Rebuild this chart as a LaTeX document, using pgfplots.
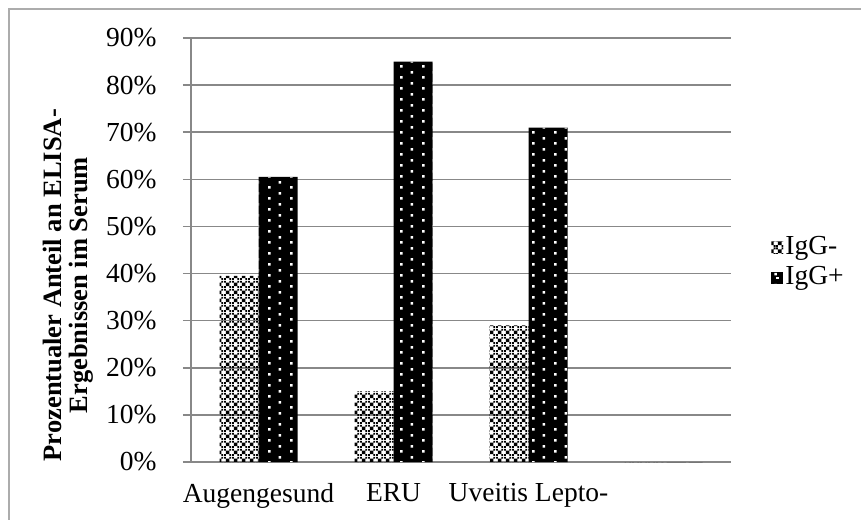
\documentclass[border=0pt]{standalone}
\usepackage{pgfplots}
\pgfplotsset{compat=1.18}
\usetikzlibrary{patterns.meta}
\usepackage{fontspec}
\setmainfont{Liberation Serif}

\definecolor{axgray}{HTML}{888888}

% small black crosses (IgG-)
\tikzdeclarepattern{
  name=xcross,
  type=uncolored,
  bottom left={(0pt,0pt)},
  top right={(8pt,8pt)},
  tile size={(8pt,8pt)},
  code={
    \pgfpathrectangle{\pgfpoint{0pt}{0pt}}{\pgfpoint{2pt}{2pt}}
    \pgfpathrectangle{\pgfpoint{2pt}{2pt}}{\pgfpoint{4pt}{4pt}}
    \pgfpathrectangle{\pgfpoint{6pt}{6pt}}{\pgfpoint{2pt}{2pt}}
    \pgfpathrectangle{\pgfpoint{6pt}{0pt}}{\pgfpoint{2pt}{2pt}}
    \pgfpathrectangle{\pgfpoint{0pt}{6pt}}{\pgfpoint{2pt}{2pt}}
    \pgfusepath{fill}
  }
}
% sparse staggered dots (IgG+, white on black)
\tikzdeclarepattern{
  name=wdots,
  type=uncolored,
  bottom left={(0pt,0pt)},
  top right={(22pt,11pt)},
  tile size={(22pt,11pt)},
  code={
    \pgfpathrectangle{\pgfpoint{4.3pt}{1.5pt}}{\pgfpoint{2.6pt}{2.6pt}}
    \pgfpathrectangle{\pgfpoint{15.3pt}{7pt}}{\pgfpoint{2.6pt}{2.6pt}}
    \pgfusepath{fill}
  }
}

\begin{document}
\fontsize{27.5}{30}\selectfont
\begin{tikzpicture}[x=1pt,y=1pt]
\useasboundingbox (0,0) rectangle (861,519);
\draw[line width=1.2pt, color=axgray!70] (9,-10) -- (9,510) -- (880,510);
\begin{axis}[
    at={(191pt,57pt)}, anchor=south west,
    scale only axis,
    width=540pt, height=424pt,
    ybar=0pt, bar width=39pt,
    xmin=-0.5, xmax=3.5,
    ymin=0, ymax=90,
    enlargelimits=false,
    xtick={0,1,2,3},
    xticklabels={Augengesund,ERU,Uveitis Lepto-,{}},
    major x tick style={draw=none},
    ytick={0,10,...,90},
    yticklabel={\pgfmathprintnumber{\tick}\%},
    /pgf/number format/assume math mode=true,
    tick align=outside,
    major tick length=8pt,
    major y tick style={line width=1.5pt, color=axgray},
    ymajorgrids,
    grid style={line width=1.5pt, color=axgray},
    axis x line*=bottom,
    axis y line*=left,
    axis line style={line width=1.5pt, color=axgray},
    y tick label style={xshift=-17pt},
    x tick label style={yshift=-4pt},
    ylabel={Prozentualer Anteil an ELISA-\\Ergebnissen im Serum},
    ylabel style={at={(axis description cs:-0.228,0.417)}, anchor=center,
        align=center, font=\bfseries\fontsize{26.5}{26}\selectfont},
    legend style={draw=none, fill=none, at={(1.069,0.47)}, anchor=west,
        font=\fontsize{27.5}{30}\selectfont,
        nodes={font=\fontsize{27.5}{30}\selectfont},
        row sep=4pt},
    legend cell align=left,
]
\addplot[draw=none, pattern=xcross, pattern color=black,
    legend image code/.code={\fill[pattern=xcross, pattern color=black] (0pt,-6pt) rectangle (12pt,6pt);}]
    coordinates {(0,39.5) (1,15) (2,29) (3,0)};
\addplot[draw=none, fill=black, postaction={pattern=wdots, pattern color=white},
    legend image code/.code={\fill[black] (0pt,-6pt) rectangle (12pt,6pt);
        \fill[white] (5pt,-1.3pt) rectangle (7.6pt,1.3pt);}]
    coordinates {(0,60.5) (1,85) (2,71) (3,0)};
\legend{IgG-, IgG+}
\end{axis}
\end{tikzpicture}
\end{document}
